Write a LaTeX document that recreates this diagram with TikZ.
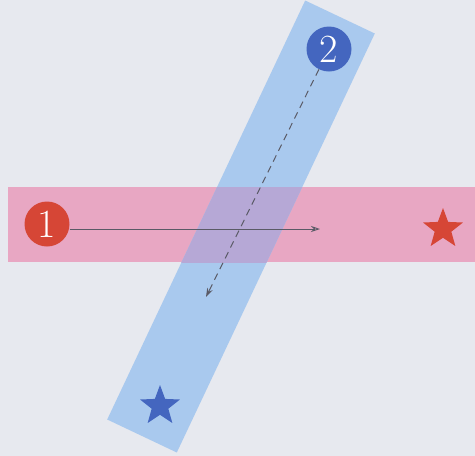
\documentclass[tikz,border=0pt]{standalone}
\usetikzlibrary{shapes.geometric,arrows.meta}
\definecolor{bgc}{HTML}{E7E9EF}
\definecolor{pinkband}{HTML}{E8A7C3}
\definecolor{blueband}{HTML}{A9C9EE}
\definecolor{overlapc}{HTML}{B6A8D6}
\definecolor{redc}{HTML}{D64636}
\definecolor{bluec}{HTML}{4466BF}
\definecolor{linec}{HTML}{5A5A66}
\tikzset{
  digit/.style={circle,minimum size=45pt,inner sep=0pt,text=white,font=\fontsize{40}{40}\selectfont},
  starnode/.style={star,star points=5,star point ratio=2.4,minimum size=42pt,inner sep=0pt},
  path1/.style={draw=linec,line width=0.9pt,-{Stealth[length=9pt,width=6pt,open]}},
  path2/.style={draw=linec,line width=1pt,dashed,dash pattern=on 7pt off 5pt,-{Stealth[length=9pt,width=6pt]}}
}
\begin{document}
\begin{tikzpicture}[x=1pt,y=-1pt]
\fill[bgc] (0,0) rectangle (475,456);
\useasboundingbox (0,0) rectangle (475,456);
% bands
\fill[pinkband] (8,187) rectangle (475,262);
\fill[blueband] (305.2,0.5) -- (374.8,33.5) -- (176.8,452.5) -- (107.2,419.5) -- cycle;
\begin{scope}
\clip (8,187) rectangle (475,262);
\fill[overlapc] (305.2,0.5) -- (374.8,33.5) -- (176.8,452.5) -- (107.2,419.5) -- cycle;
\end{scope}
% nodes
\node[digit,fill=redc] (one) at (47,224) {1};
\node[digit,fill=bluec] (two) at (329,49) {2};
\node[starnode,fill=redc] (redstar) at (443,229) {};
\node[starnode,fill=bluec] (bluestar) at (160,406) {};
\coordinate (end1) at (320,229);
\coordinate (end2) at (206,297);
\draw[path1] (one.east |- end1) -- (end1);
\draw[path2] (two) -- (end2);
\end{tikzpicture}
\end{document}
